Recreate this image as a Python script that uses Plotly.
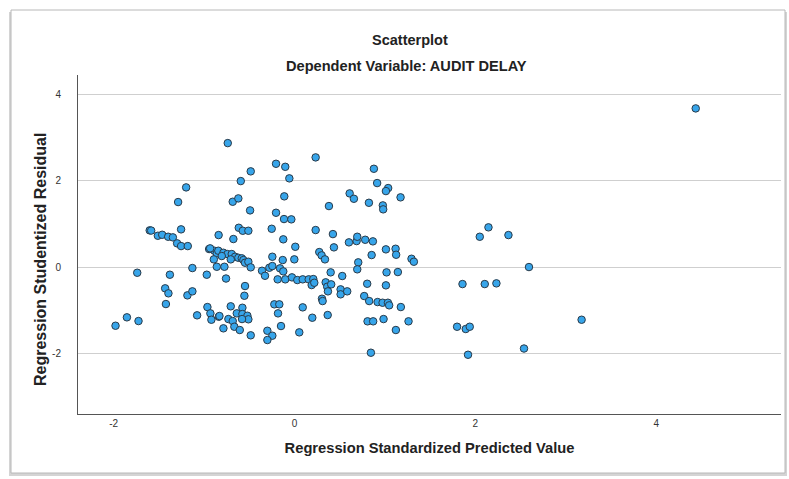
import plotly.graph_objects as go

# Regression Standardized Predicted Value
pred = [
    -1.198, -1.287, -1.601, -1.585, -1.254, -1.511, -1.463, -1.397, -1.345, -1.298,
    -1.254, -1.180, -0.839, -0.944, -0.886, -0.859, -0.892, -0.859, -1.739, -1.378,
    -1.129, -0.970, -1.430, -1.394, -1.422, -1.184, -1.129, -1.853, -1.725, -1.979,
    -1.077, -0.963, -0.930, -0.919, -0.837, -0.738, -0.204, -0.102, -0.484, -0.594,
    -0.057, -0.683, -0.621, -0.113, -0.491, -0.204, -0.116, -0.035, -0.616, -0.572,
    -0.510, -0.252, -0.676, -0.124, 0.009, -0.933, -0.842, -0.786, -0.742, -0.694,
    -0.657, -0.621, -0.583, -0.565, -0.547, -0.510, -0.804, -0.705, -0.775, -0.484,
    -0.245, -0.130, -0.002, -0.359, -0.326, -0.278, -0.245, -0.160, -0.124, -0.757,
    -0.186, -0.102, -0.028, 0.031, 0.091, 0.157, -0.547, -0.554, -0.830, -0.705,
    -0.638, -0.576, -0.576, -0.521, -0.510, -0.731, -0.683, -0.580, -0.786, -0.665,
    -0.605, -0.484, -0.223, -0.168, -0.182, 0.091, -0.149, -0.300, -0.245, -0.300,
    0.053, 0.234, 0.878, 0.914, 1.036, 1.011, 0.610, 0.657, 1.173, 0.823,
    0.381, 0.977, 0.981, 0.234, 0.425, 0.436, 0.602, 0.687, 0.694, 0.782,
    0.867, 0.274, 0.300, 0.337, 0.705, 0.694, 0.853, 1.011, 1.118, 1.124,
    0.400, 0.528, 1.018, 1.143, 0.208, 0.190, 0.219, 0.345, 0.362, 0.370,
    0.406, 0.510, 0.510, 0.583, 0.804, 1.011, 0.304, 0.311, 0.771, 0.826,
    0.919, 0.974, 1.033, 1.047, 1.176, 0.197, 0.367, 0.808, 0.870, 0.985,
    1.261, 1.121, 0.845, 2.049, 2.145, 2.366, 1.294, 1.320, 2.593, 1.858,
    2.104, 2.233, 1.798, 1.894, 1.938, 1.919, 2.538, 4.437, 3.175,
]

# Regression Studentized Residual
resid = [
    1.846, 1.506, 0.850, 0.845, 0.873, 0.725, 0.748, 0.702, 0.688, 0.549,
    0.486, 0.486, 0.741, 0.417, 0.378, 0.317, 0.178, 0.007, -0.132, -0.178,
    -0.023, -0.178, -0.493, -0.609, -0.857, -0.656, -0.563, -1.165, -1.251, -1.360,
    -1.119, -0.927, -1.073, -1.221, -1.151, 2.872, 2.393, 2.323, 2.217, 1.992,
    2.055, 1.513, 1.591, 1.638, 1.313, 1.258, 1.112, 1.105, 0.910, 0.841,
    0.841, 0.887, 0.649, 0.642, 0.470, 0.433, 0.378, 0.331, 0.301, 0.301,
    0.239, 0.215, 0.202, 0.162, 0.100, 0.123, 0.255, 0.178, 0.007, -0.007,
    0.239, 0.162, 0.178, -0.086, -0.202, -0.016, 0.023, -0.030, -0.100, -0.266,
    -0.285, -0.285, -0.239, -0.301, -0.285, -0.285, -0.440, -0.665, -1.135, -0.910,
    -1.073, -0.943, -1.089, -1.128, -1.211, -1.205, -1.251, -1.205, -1.420, -1.383,
    -1.459, -1.582, -0.864, -0.864, -1.073, -0.934, -1.367, -1.476, -1.591, -1.691,
    -1.513, 2.541, 2.277, 1.946, 1.830, 1.760, 1.707, 1.582, 1.615, 1.489,
    1.413, 1.429, 1.337, 0.857, 0.764, 0.456, 0.572, 0.602, 0.702, 0.632,
    0.595, 0.347, 0.271, 0.178, 0.109, -0.053, 0.278, 0.410, 0.424, 0.285,
    -0.123, -0.208, -0.123, -0.116, -0.278, -0.417, -0.364, -0.354, -0.456, -0.563,
    -0.401, -0.517, -0.632, -0.563, -0.387, -0.424, -0.734, -0.788, -0.672, -0.788,
    -0.811, -0.827, -0.827, -0.887, -0.927, -1.174, -1.112, -1.258, -1.258, -1.205,
    -1.258, -1.459, -1.985, 0.702, 0.920, 0.741, 0.192, 0.123, 0.000, -0.394,
    -0.394, -0.378, -1.383, -1.436, -1.383, -2.032, -1.888, 3.676, -1.221,
]

x_ticks = [-2, 0, 2, 4]
y_ticks = [-2, 0, 2, 4]

FONT = "Liberation Sans, Arial, sans-serif"

fig = go.Figure()
fig.add_trace(go.Scatter(
    x=pred, y=resid, mode="markers",
    marker=dict(size=7.5, color="#37a5ea", line=dict(color="#2a3a48", width=1)),
    hoverinfo="x+y", showlegend=False,
))

# outer frame with shadow (paper coordinates relative to plot area)
W, H = 789, 479
L, R, T, B = 78, 8, 75, 65
pw, ph = W - L - R, H - T - B

def px2paper_x(v):
    return (v - L) / pw

def px2paper_y(v):
    return (H - B - v) / ph

shapes = [
    dict(type="rect", xref="paper", yref="paper", layer="below",
         x0=px2paper_x(9), x1=px2paper_x(787), y0=px2paper_y(12), y1=px2paper_y(476),
         fillcolor="#d4d4d4", line=dict(width=0)),
    dict(type="rect", xref="paper", yref="paper", layer="below",
         x0=px2paper_x(11), x1=px2paper_x(785), y0=px2paper_y(10), y1=px2paper_y(473),
         fillcolor="white", line=dict(color="#b8b8b8", width=1)),
]

fig.update_layout(
    width=W, height=H,
    margin=dict(l=L, r=R, t=T, b=B),
    paper_bgcolor="white", plot_bgcolor="white",
    font=dict(family=FONT, color="#222222"),
    shapes=shapes,
    annotations=[
        dict(text="<b>Scatterplot</b>", xref="paper", yref="paper",
             x=px2paper_x(410), y=px2paper_y(40), xanchor="center", yanchor="middle",
             showarrow=False, font=dict(size=14.5, family=FONT, color="#222")),
        dict(text="<b>Dependent Variable: AUDIT DELAY</b>", xref="paper", yref="paper",
             x=px2paper_x(406), y=px2paper_y(66), xanchor="center", yanchor="middle",
             showarrow=False, font=dict(size=14.6, family=FONT, color="#222")),
        dict(text="<b>Regression Studentized Residual</b>", xref="paper", yref="paper",
             x=px2paper_x(40), y=px2paper_y(260), xanchor="center", yanchor="middle",
             textangle=-90, showarrow=False,
             font=dict(size=16, family=FONT, color="#222")),
    ],
)

fig.update_xaxes(
    range=[-2.394, 5.38], tickvals=x_ticks, ticktext=[str(t) for t in x_ticks],
    showgrid=False, zeroline=False, showline=True, linecolor="#555555", linewidth=1,
    ticks="", tickfont=dict(size=10, color="#333"),
    title=dict(text="<b>Regression Standardized Predicted Value</b>",
               font=dict(size=14.7, family=FONT, color="#222"), standoff=14),
)
fig.update_yaxes(
    range=[-3.405, 4.45], tickvals=y_ticks, ticktext=[str(t) for t in y_ticks],
    showgrid=True, gridcolor="#cfcfcf", gridwidth=1,
    zeroline=False, showline=True, linecolor="#555555", linewidth=1,
    ticks="", tickfont=dict(size=10, color="#333"), ticklabelstandoff=14,
)

fig.write_html("out.html", config={"displayModeBar": False},
               post_script="document.body.style.margin='0';")
